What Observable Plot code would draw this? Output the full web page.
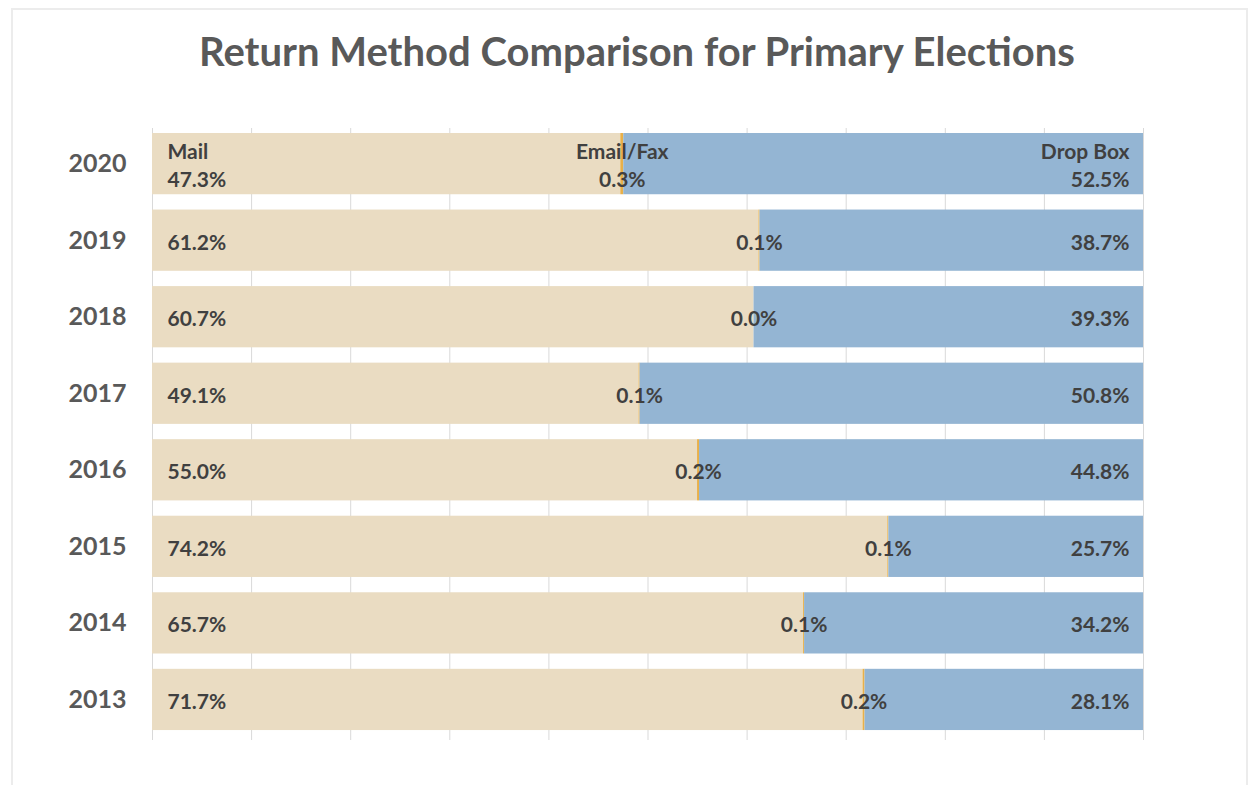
<!DOCTYPE html>
<html>
<head>
<meta charset="utf-8">
<script src="https://cdn.jsdelivr.net/npm/d3@7"></script>
<script src="https://cdn.jsdelivr.net/npm/@observablehq/plot@0.6"></script>
<style>
  html, body { margin: 0; padding: 0; background: #fff; }
  #wrap { position: relative; width: 1248px; height: 785px; overflow: hidden; font-family: Lato, "Open Sans", sans-serif; }
  #frame { position: absolute; left: 11px; top: 8px; width: 1233px; height: 820px; border: 2px solid #ececec; }
  #title { position: absolute; left: 0; top: 26px; width: 1274px; text-align: center; font-size: 40px; line-height: 50px; font-weight: 700; color: #595959; }
  #chart { position: absolute; left: 0; top: 0; }
</style>
</head>
<body>
<div id="wrap">
  <div id="frame"></div>
  <div id="title">Return Method Comparison for Primary Elections</div>
  <div id="chart"></div>
</div>
<script>
// Return method shares (%) for primary elections, newest year first
const years = ["2020", "2019", "2018", "2017", "2016", "2015", "2014", "2013"];
const methods = ["Mail", "Email/Fax", "Drop Box"];
const mail = [47.3, 61.2, 60.7, 49.1, 55.0, 74.2, 65.7, 71.7];
const emailFax = [0.3, 0.1, 0.0, 0.1, 0.2, 0.1, 0.1, 0.2];
const dropBox = [52.5, 38.7, 39.3, 50.8, 44.8, 25.7, 34.2, 28.1];
const colors = ["#EADCC2", "#E8B04A", "#94B5D3"];
const gridTicks = [0, 0.1, 0.2, 0.3, 0.4, 0.5, 0.6, 0.7, 0.8, 0.9, 1];

// Long table: one row per year and method
const series = [mail, emailFax, dropBox];
const rows = [];
years.forEach((year, i) => {
  methods.forEach((method, j) => {
    const v = series[j][i];
    // the top row also names each method above its value
    const label = i === 0 ? `${method}\n${v.toFixed(1)}%` : `${v.toFixed(1)}%`;
    rows.push({year, method, value: v, label});
  });
});

const stackOpts = {x: "value", y: "year", z: "method", order: methods, offset: "normalize"};
// every label mark stacks all rows, then only prints its own method's text
const labelStyle = m => ({text: d => (d.method === m ? d.label : null), fontSize: 21, fontWeight: 700, fill: "#404040", lineHeight: 1.33});

const chart = Plot.plot({
  width: 1248,
  height: 785,
  marginLeft: 152,
  marginRight: 105,
  marginTop: 128,
  marginBottom: 45,
  style: {fontFamily: "Lato, 'Open Sans', sans-serif", background: "transparent"},
  x: {domain: [0, 1], axis: null},
  y: {domain: years, range: [125.35, 737.7], paddingInner: 0.2, paddingOuter: 0.1, round: false, axis: null},
  color: {domain: methods, range: colors},
  marks: [
    Plot.ruleX(gridTicks, {stroke: "#d9d9d9", strokeWidth: 1}),
    Plot.barX(rows, Plot.stackX({...stackOpts, fill: "method"})),
    // Mail values at the left end of each bar
    Plot.text(rows, Plot.stackX1({...stackOpts, ...labelStyle("Mail"), textAnchor: "start", dx: 15})),
    // Email/Fax values centred on their thin segment
    Plot.text(rows, Plot.stackX({...stackOpts, ...labelStyle("Email/Fax"), textAnchor: "middle"})),
    // Drop Box values at the right end of each bar
    Plot.text(rows, Plot.stackX2({...stackOpts, ...labelStyle("Drop Box"), textAnchor: "end", dx: -14})),
    // Year labels
    Plot.text(years, {y: d => d, text: d => d, frameAnchor: "left", textAnchor: "end", dx: -26, fontSize: 25, fontWeight: 700, fill: "#595959"})
  ]
});
document.getElementById("chart").appendChild(chart);
</script>
</body>
</html>
